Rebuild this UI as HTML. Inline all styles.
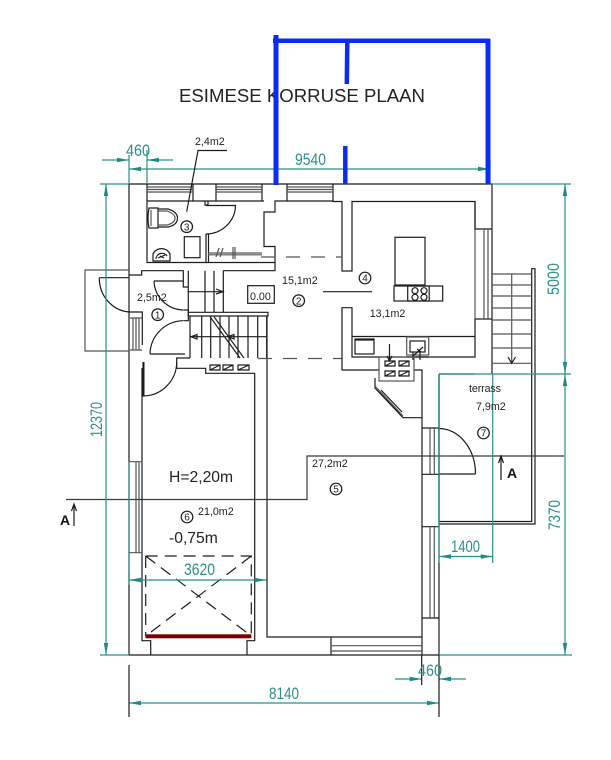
<!DOCTYPE html>
<html><head><meta charset="utf-8"><style>
html,body{margin:0;padding:0;background:#fff}
svg{display:block}
text{font-family:"Liberation Sans",sans-serif;fill:#222}
.k{fill:none;stroke:#1c1c1c;stroke-width:1.2}
.g{fill:none;stroke:#555;stroke-width:1.2}
.t{fill:none;stroke:#2b8f8b;stroke-width:1.2}
.b{fill:none;stroke:#0a2cf5}
.dim{fill:#2b8f8b;font-size:17px}
.s{font-size:10.7px}
</style></head><body>
<svg width="611" height="760" viewBox="0 0 611 760" xmlns="http://www.w3.org/2000/svg">
<defs>
<marker id="a" viewBox="0 0 12 6" refX="12" refY="3" markerWidth="12" markerHeight="6" orient="auto-start-reverse" markerUnits="userSpaceOnUse"><path d="M0 0.8L12 3L0 5.2Z" fill="#1f8a85"/></marker>
</defs>
<text x="179" y="102" style="font-size:18px" textLength="246" lengthAdjust="spacingAndGlyphs">ESIMESE KORRUSE PLAAN</text>

<!-- outer walls -->
<path class="k" d="M129 184H492V374M129 184V655H439V374M147 184V262.5H275V246.5H264V212H275V201H287V184M262 184V201H264M193 184V201H216V184M333 184V201.5H342V271H352V201.5H475V229H492M333 201.5V184"/>
<path class="k" d="M147 201H193M216 201H262M287 201H333"/>
<path class="g" d="M147 187H193M147 189.5H193M147 192H193M216 187H262M216 189.5H262M216 192H262M287 187H333M287 189.5H333M287 192H333"/>
<path class="k" d="M205 201V205H208V201M206 234V262.5M208.5 234V262.5M206 234M206 205.5H235.5A30 29 0 0 1 206 234"/>
<path class="g" d="M208 253H262M208 254.8H262M216 257L219 248M220 257L223 248M233 247V259M235 247V259"/>
<rect class="k" x="184.3" y="236.7" width="15.7" height="21"/>
<!-- toilet -->
<path class="k" d="M149 208H158V228H149Q147 218 149 208ZM158 209H168Q177.5 212 177.5 218Q177.5 225 168 227H158"/>
<path class="g" d="M151 210V226M158 211H167Q175 214 175 218Q175 223 167 225H158"/>
<!-- sink -->
<path class="k" d="M153 261V254A9 8 0 0 1 170 254V261ZM156 259A6 6 0 0 1 167 256"/>
<path class="k" d="M160 256L164 258M158 258L165 255"/>

<!-- entry area -->
<path class="g" d="M129 270H85V351H129"/>
<path class="k" d="M129 275H141.7V270.7H183.3V281M223 270.7H275V262.5M129 312H142.3V345M142.3 312H129"/>
<path class="k" d="M99.3 277.7H129M99.3 277.7A32 34 0 0 0 130 312"/>
<path class="k" d="M154 281H183.3M154 281A30 30 0 0 0 183 310"/>
<path class="k" d="M150 354H185M150 354A34 34 0 0 1 183 320.7"/>
<path class="k" d="M183.3 281V287H188.3M183.3 310H188.3V320.7H183.3"/>
<path class="g" d="M133 318V350M136 318V350M139 318V350M130 318H142M130 350H142"/>
<path class="k" d="M142 368V640.7H150.7V655M247 655V640.7H254.7V373.3H205.7V368.3H176.7V358H190"/>
<path class="k" d="M143 362V396A34 34 0 0 0 176.7 362"/>
<path stroke="#1c1c1c" stroke-width="2" d="M143.5 362V396"/>
<path class="g" d="M129 461.7H142M129 552.7H142M136 461.7V552.7M139 461.7V552.7"/>

<!-- stairs upper -->
<path class="k" d="M188.3 270.7V316M223.3 270.7V312.3M205 270.7V312.3M214 270.7V312.3M188.3 291.7H223.3"/>
<path class="k" d="M216 289L223 291.7L216 294"/>
<path class="k" d="M189 312.3H268V316H189"/>
<path class="k" d="M190 316V358M201.7 316V358M210.7 316V358M220 316V358M229 316V358M238 316V358M248 316V358M257.7 316V358M266.7 316V358M190 336.7H267"/>
<path class="k" d="M210 316.7L240 358M214 316.7L244 358"/>
<path class="k" d="M191 336.7L197 334.5V339ZM228 336.7L234 334.5V339Z"/>
<path class="k" d="M210 365H220V370H210ZM223 365H233V370H223ZM238 365H249V370H238ZM210 370L220 365M223 370L233 365M238 370L249 365"/>
<path class="k" d="M267 316V637H422"/>
<path class="g" stroke-dasharray="14 11" d="M261 257H342M258 358.5H342"/>
<rect class="k" x="247.7" y="285.7" width="26.6" height="17.6"/>

<!-- kitchen -->
<path class="k" d="M475 201.5V229M475 319V357H352V307.7H342V370H379M414 370H422V428"/>
<path class="k" d="M352 336.5H475M475 319H492"/>
<path class="g" d="M475 229V319M484 229V319M488 229V319"/>
<path class="k" d="M323 291.7H372"/>
<rect class="k" x="395" y="237.3" width="30" height="47.7"/>
<rect class="k" x="394" y="286" width="48.7" height="15"/>
<rect class="k" x="407.7" y="286" width="21.5" height="15"/>
<circle class="k" cx="415" cy="290.7" r="3"/><circle class="k" cx="424" cy="290.7" r="3"/><circle class="k" cx="415" cy="297.3" r="3"/><circle class="k" cx="424" cy="297.3" r="3"/>
<rect class="k" x="355" y="339" width="19" height="15"/>
<path class="k" d="M355 340H374" stroke-width="2"/>
<rect class="g" x="406.7" y="337" width="22" height="18"/>
<rect class="k" x="410" y="341" width="15" height="11"/>
<path class="k" d="M412 357L423 347M417 349L421 352M406 357H429M413 352V360M420 352V360"/>
<rect class="g" x="379" y="357" width="35" height="24"/>
<path class="k" d="M385 361H395V366H385ZM399 361H409V366H399ZM385 371H395V376H385ZM399 371H409V376H399ZM385 366L395 361M399 366L409 361M385 376L395 371M399 376L409 371"/>
<path class="k" d="M389.5 344V360M387 356L389.5 361L392 356"/>
<!-- angled wall -->
<path class="k" d="M375 378V388L403 417.7H421.7M379 392L400 414M381 390L402 412"/>
<path class="g" d="M375 386L403 416"/>

<!-- east side -->
<path class="k" d="M422 428V655M422 428H439M422 474.3H439M422 526.7H439M422 618H439"/>
<path class="g" d="M430 428V474.3M434.3 428V474.3M430 526.7V618M434.3 526.7V618"/>
<path class="k" d="M439 474H475.5M439 428.5A36.5 45.5 0 0 1 475.5 474"/>
<path class="k" d="M331 637V655"/>
<path class="g" d="M331 645.7H422M331 651H422"/>

<!-- terrace and outer stairs -->
<path class="k" d="M439 374H475M439 374V521.5H531.7V268.7H535V524H439"/>
<path class="g" d="M492 274H531.7M492 285H531.7M492 296H531.7M492 308H531.7M492 320H531.7M492 334H531.7M492 348H531.7M492 363.3H531.7M511.7 274V363.3"/>
<path class="k" d="M508 357L511.7 363.3L515.5 357"/>

<!-- garage -->
<rect x="145.5" y="634.3" width="105.8" height="4" fill="#7a0000"/>
<path class="k" stroke-dasharray="12 7" d="M145.7 556H251.3V636M145.7 556V636M145.7 556L251.3 636M251.3 556L145.7 636"/>

<!-- section line -->
<path d="M66 499.5H307V456H564" fill="none" stroke="#3a3a3a" stroke-width="1.2"/>
<path class="k" d="M74 526V504M71.5 511L74 504L76.5 511M501 480V456M498.5 463L501 456L503.5 463"/>
<text x="60" y="525" style="font-size:14px;font-weight:bold;fill:#111">A</text>
<text x="507" y="478" style="font-size:14px;font-weight:bold;fill:#111">A</text>

<!-- dimensions -->
<path class="t" d="M100 184H129M100 655H129M492 184H571M439 374H571M439 655H572M129 155V184M147 150V184M490 160V184M439 374V563M492.7 374V563M129 580V570"/>
<path class="t" marker-start="url(#a)" marker-end="url(#a)" d="M129 169H490"/>
<path class="t" marker-end="url(#a)" d="M102 160H129"/>
<path class="t" marker-end="url(#a)" d="M173 160H147"/>
<path class="t" marker-start="url(#a)" marker-end="url(#a)" d="M106 184V655"/>
<path class="t" marker-start="url(#a)" marker-end="url(#a)" d="M565 184V374"/>
<path class="t" marker-start="url(#a)" marker-end="url(#a)" d="M565 374V655"/>
<path class="t" marker-start="url(#a)" marker-end="url(#a)" d="M439 556.5H492.7"/>
<path class="t" marker-start="url(#a)" marker-end="url(#a)" d="M129 580H266.7"/>
<path class="t" marker-end="url(#a)" d="M395 679H421.7"/>
<path class="t" marker-end="url(#a)" d="M466 679H439"/>
<path class="t" marker-start="url(#a)" marker-end="url(#a)" d="M129 703H439"/>
<path class="k" d="M129 665V717M439 655V717M421.7 655V685"/>
<path class="t" d="M129 461.7V585"/>

<text class="dim" x="126" y="156" textLength="24" lengthAdjust="spacingAndGlyphs">460</text>
<text class="dim" x="295" y="165" textLength="31" lengthAdjust="spacingAndGlyphs">9540</text>
<text class="dim" x="184" y="575" textLength="31" lengthAdjust="spacingAndGlyphs">3620</text>
<text class="dim" x="451" y="552" textLength="29" lengthAdjust="spacingAndGlyphs">1400</text>
<text class="dim" x="418" y="676" textLength="24" lengthAdjust="spacingAndGlyphs">460</text>
<text class="dim" x="269" y="699" textLength="30" lengthAdjust="spacingAndGlyphs">8140</text>
<text class="dim" transform="translate(102 437) rotate(-90)" textLength="35" lengthAdjust="spacingAndGlyphs">12370</text>
<text class="dim" transform="translate(559 295) rotate(-90)" textLength="32" lengthAdjust="spacingAndGlyphs">5000</text>
<text class="dim" transform="translate(560 530) rotate(-90)" textLength="30" lengthAdjust="spacingAndGlyphs">7370</text>

<!-- labels -->
<path class="k" d="M227 150.5H198L186.7 211.7"/>
<text class="s" x="195" y="145">2,4m2</text>
<text class="s" x="137" y="301">2,5m2</text>
<text class="s" x="282" y="284">15,1m2</text>
<text class="s" x="250" y="300">0.00</text>
<text class="s" x="369.7" y="317">13,1m2</text>
<text class="s" x="469" y="392" textLength="32">terrass</text>
<text class="s" x="476" y="410">7,9m2</text>
<text class="s" x="312" y="467">27,2m2</text>
<text x="169" y="482" style="font-size:15.7px">H=2,20m</text>
<text class="s" x="198" y="515">21,0m2</text>
<text x="169" y="543" style="font-size:15.7px">-0,75m</text>

<g text-anchor="middle" style="font-size:10px">
<circle class="k" cx="186.7" cy="226.7" r="5.8"/><text x="186.7" y="230.3">3</text>
<circle class="k" cx="298.7" cy="300.7" r="5.8"/><text x="298.7" y="304.3">2</text>
<circle class="k" cx="157.7" cy="314.7" r="5.8"/><text x="157.7" y="318.3">1</text>
<circle class="k" cx="365" cy="278" r="5.8"/><text x="365" y="281.6">4</text>
<circle class="k" cx="336" cy="489" r="5.8"/><text x="336" y="492.6">5</text>
<circle class="k" cx="187" cy="517" r="5.8"/><text x="187" y="520.6">6</text>
<circle class="k" cx="483.5" cy="433" r="5.8"/><text x="483.5" y="436.6">7</text>
</g>

<!-- blue overlay -->
<path class="b" stroke-width="4.5" d="M273 40.7H490"/>
<path class="b" stroke-width="5" d="M276 35V185M488 39V184"/>
<path class="b" stroke-width="4.5" d="M347.3 42L346.8 84M345.3 146V184"/>
</svg>
</body></html>
